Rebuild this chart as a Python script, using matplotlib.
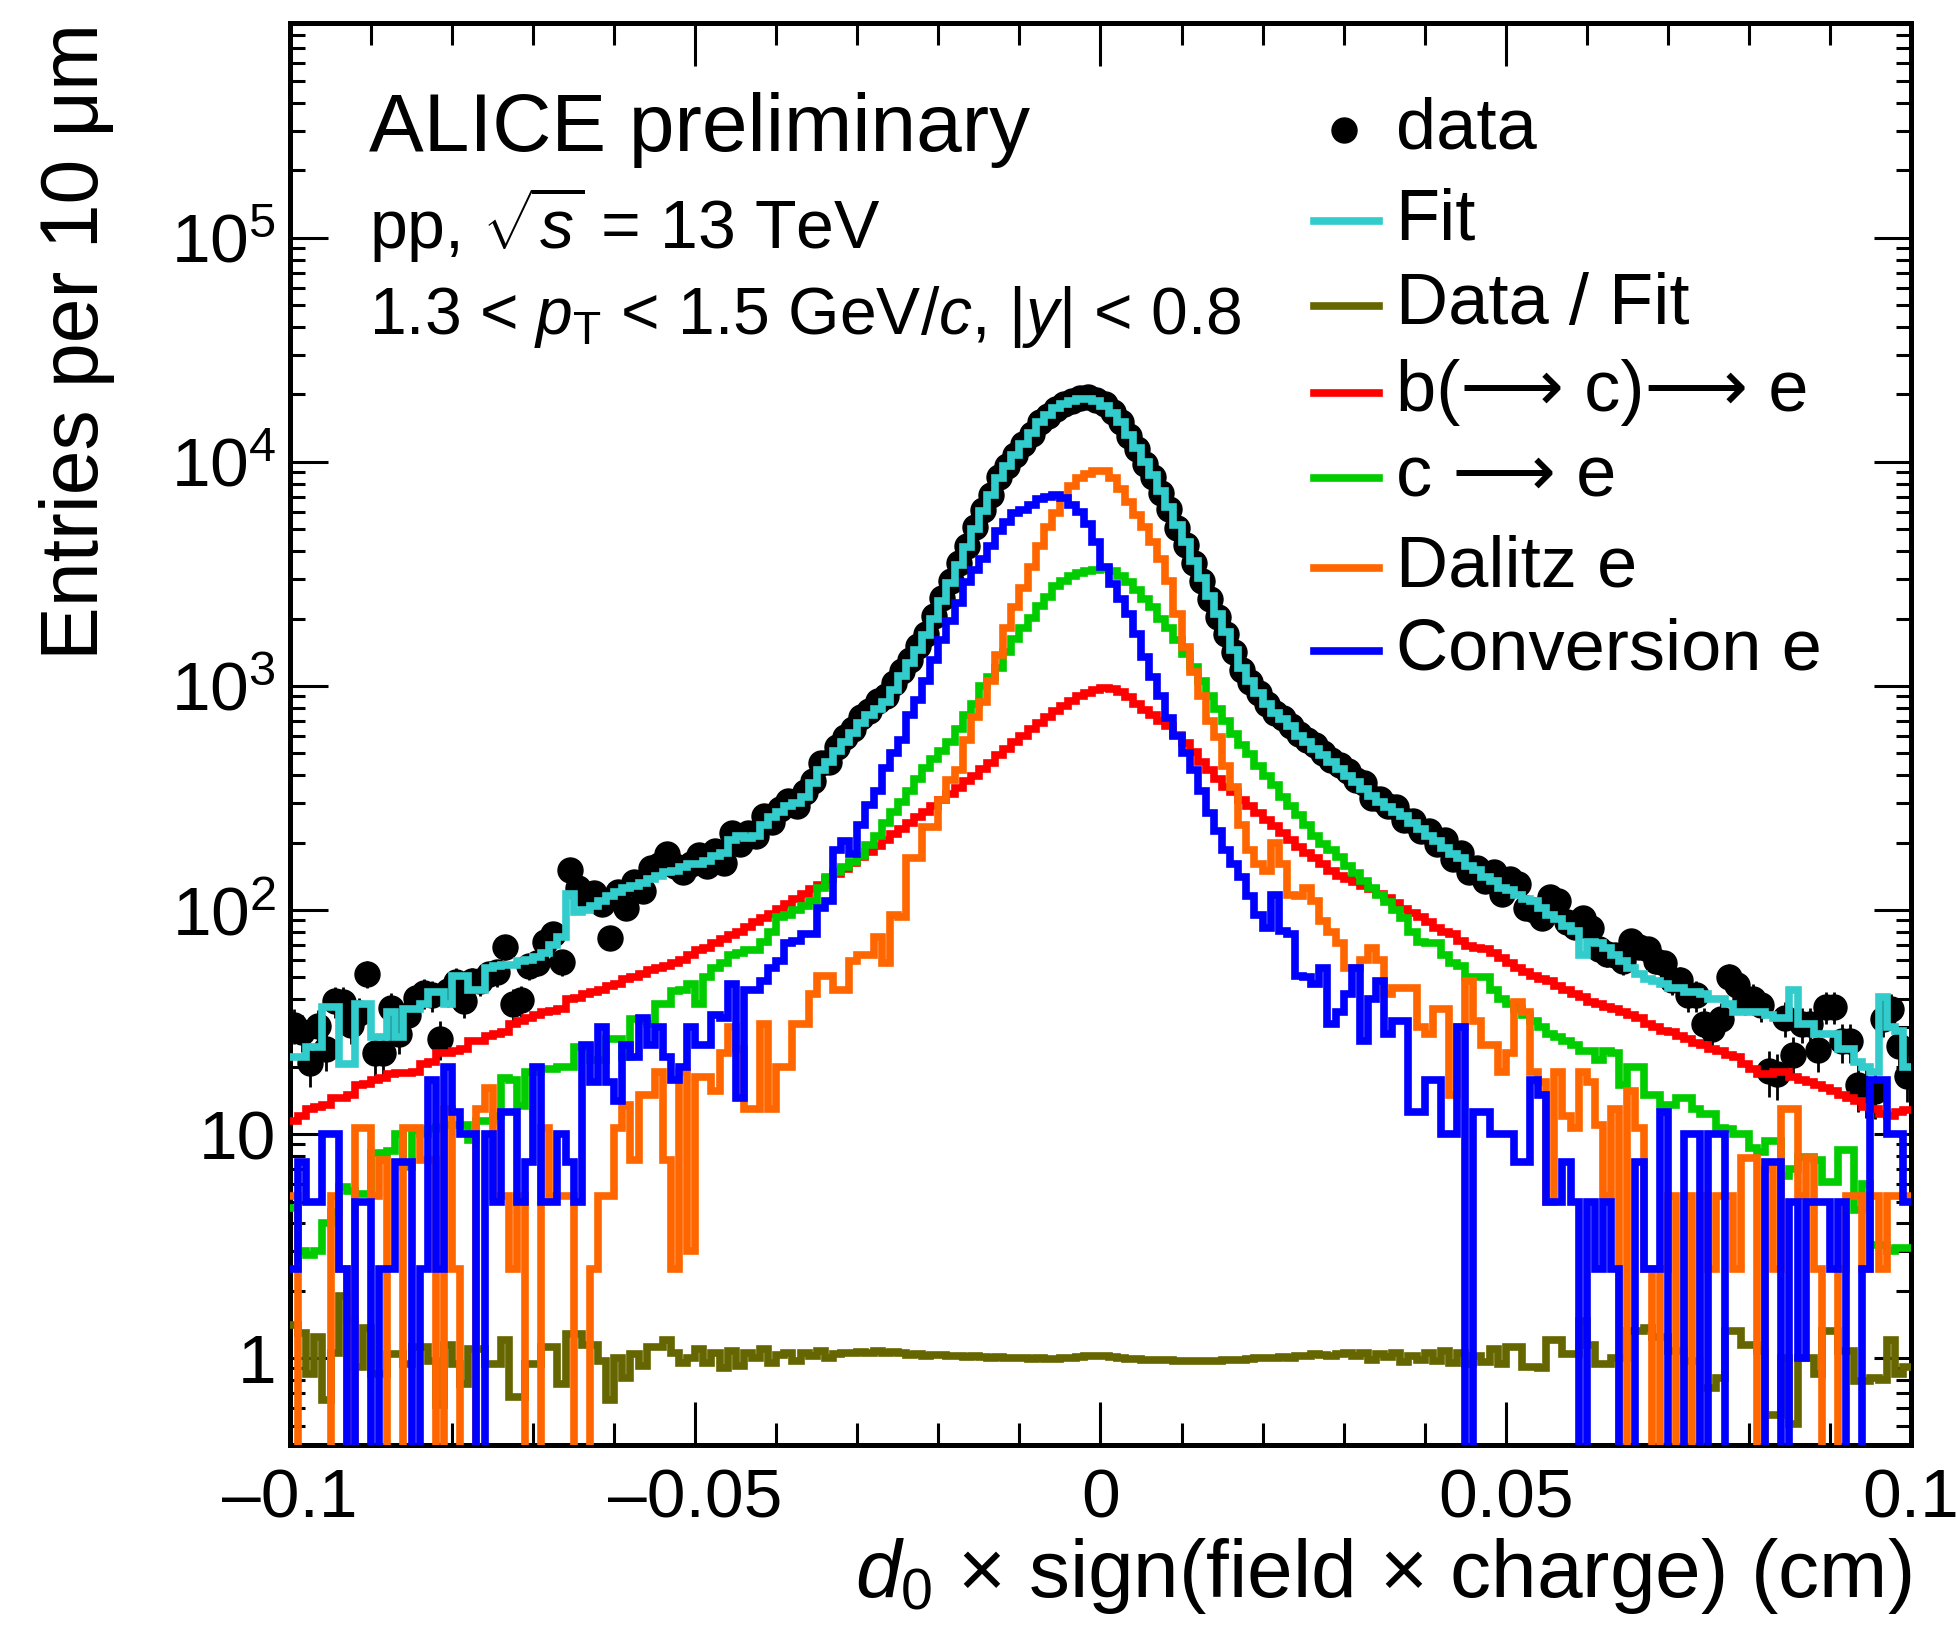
"""
    d0 distribution with template fit (ALICE preliminary style)
"""
import numpy as np
import matplotlib
matplotlib.use("Agg")
import matplotlib.pyplot as plt
from matplotlib.ticker import MultipleLocator, LogLocator, FuncFormatter, NullFormatter

plt.rcParams['font.family'] = ['Liberation Sans', 'DejaVu Sans']
plt.rcParams['mathtext.fontset'] = 'custom'
plt.rcParams['mathtext.rm'] = 'Liberation Sans'
plt.rcParams['mathtext.it'] = 'Liberation Sans:italic'

# bins of 10 um from -0.1 to 0.1 cm
edges = np.linspace(-0.1, 0.1, 201)
centers = 0.5 * (edges[:-1] + edges[1:])

# template fit (sum)
fit_vals = [
    22, 22, 24.5, 24.5, 37, 37, 20.5, 20.5, 38, 38,
    27, 27, 35, 27, 36, 36, 38, 43, 43, 38,
    51, 51, 44, 44, 55, 56, 57, 57, 59, 60,
    62, 64, 70, 76, 118, 98, 100, 104, 110, 116,
    120, 125, 128, 132, 138, 142, 148, 150, 155, 160,
    160, 165, 175, 180, 205, 215, 210, 215, 240, 260,
    275, 290, 300, 320, 370, 420, 460, 515, 560, 615,
    680, 740, 790, 850, 960, 1110, 1270, 1450, 1680, 2000,
    2400, 2880, 3470, 4170, 5010, 6030, 7080, 8510, 9550, 10700,
    12000, 13500, 15100, 16200, 17400, 18200, 18600, 19000, 19000, 18600,
    17800, 16600, 15100, 13200, 11500, 10000, 8710, 7410, 6310, 5250,
    4370, 3630, 3020, 2510, 2090, 1740, 1450, 1200, 1050, 930,
    830, 760, 710, 660, 600, 560, 525, 490, 457, 427,
    398, 372, 347, 324, 302, 288, 275, 263, 245, 229,
    214, 204, 190, 178, 170, 158, 151, 141, 135, 126,
    123, 117, 112, 110, 102, 95, 91, 85, 81, 63,
    72, 71, 68, 63, 59, 55, 52, 49, 48, 47,
    45, 45, 43, 43, 42, 40, 40, 38, 35, 35,
    35, 35, 34, 33, 33, 44, 31, 31, 28, 28,
    28, 24, 24, 21, 20, 19, 41, 30, 29, 20,
]

# data / fit
ratio_vals = [
    1.4, 1.3, 0.85, 1.24, 0.65, 1.06, 1.9, 1.5, 0.91, 1.37,
    0.85, 0.85, 1.04, 1.04, 0.94, 1.12, 1.12, 0.97, 0.62, 1.14,
    0.94, 0.77, 1.1, 1.1, 0.94, 0.94, 1.2, 0.67, 0.67, 0.94,
    0.94, 1.12, 1.12, 0.77, 1.28, 1.28, 1.15, 1.15, 0.97, 0.65,
    1.0, 0.82, 1.04, 0.92, 1.12, 1.12, 1.2, 1.05, 0.95, 1.0,
    1.1, 0.95, 1.05, 0.9, 1.08, 0.92, 1.05, 1.0, 1.1, 0.95,
    1.03, 1.06, 0.97, 1.05, 1.02, 1.08, 1.0, 1.04, 1.06, 1.05,
    1.07, 1.05, 1.08, 1.06, 1.07, 1.05, 1.03, 1.04, 1.02, 1.03,
    1.03, 1.02, 1.02, 1.01, 1.02, 1.01, 1.0, 1.01, 1.0, 1.0,
    1.0, 0.99, 1.0, 0.99, 0.99, 1.0, 1.0, 1.01, 1.02, 1.02,
    1.02, 1.01, 1.0, 0.99, 0.99, 0.98, 0.98, 0.98, 0.98, 0.97,
    0.97, 0.97, 0.97, 0.97, 0.97, 0.98, 0.98, 0.98, 0.99, 1.0,
    1.0, 1.0, 1.01, 1.0, 1.02, 1.02, 1.04, 1.03, 1.02, 1.04,
    1.05, 1.02, 1.06, 0.98, 1.04, 1.01, 1.05, 0.96, 1.02, 0.98,
    1.05, 0.97, 1.08, 0.95, 1.06, 0.94, 1.02, 0.96, 1.1, 0.94,
    1.12, 1.12, 0.91, 0.91, 0.9, 1.2, 1.2, 1.04, 1.04, 1.47,
    1.15, 0.94, 0.94, 1.0, 1.0, 1.32, 1.32, 1.37, 1.24, 1.24,
    1.08, 1.08, 0.97, 0.97, 0.74, 0.74, 0.82, 1.32, 1.32, 1.15,
    1.15, 1.08, 0.56, 0.56, 1.0, 0.51, 1.0, 1.0, 0.85, 1.32,
    1.32, 1.08, 1.08, 0.79, 0.79, 0.82, 0.8, 1.2, 0.85, 0.91,
]

# b(->c)->e template
bc_vals = [
    11.5, 12, 13, 13.2, 13.5, 14.5, 14.5, 15, 16.5, 16.8,
    17.5, 17.8, 18.5, 18.7, 18.8, 19, 20.5, 21, 23, 23,
    23.5, 24, 26, 26, 27.5, 28, 28.5, 31, 32, 33,
    34, 35, 35.5, 36, 40, 40.5, 42, 43, 44, 46,
    47, 49, 50, 52, 54, 55, 56, 58, 60, 63,
    66, 68, 71, 74, 77, 80, 84, 88, 92, 96,
    101, 106, 112, 118, 124, 130, 137, 145, 153, 162,
    172, 182, 194, 206, 218, 230, 245, 260, 275, 290,
    310, 330, 352, 375, 398, 425, 455, 490, 525, 560,
    600, 640, 680, 725, 770, 815, 860, 900, 935, 960,
    975, 965, 940, 890, 830, 785, 740, 700, 660, 605,
    555, 505, 460, 420, 385, 355, 335, 310, 290, 270,
    252, 236, 220, 205, 192, 180, 170, 160, 150, 142,
    138, 134, 128, 124, 118, 113, 107, 101, 97, 93,
    88, 83, 80, 78, 73, 69, 68, 67, 64, 61,
    58, 55, 53, 51, 49, 48, 46, 44, 42, 41,
    39, 38, 37, 36, 35, 34, 33, 31, 30, 29,
    28.5, 27.5, 26.5, 25.5, 25, 24, 23.5, 22.5, 22, 20.5,
    19.5, 18.6, 18.6, 19, 19, 18, 17.4, 17, 16.5, 16,
    15.5, 15, 14.5, 14, 13.2, 13, 12.3, 12, 12.6, 12.8,
]

# c->e template
c_vals = [
    4.7, 3, 2.9, 3, 4, 4.5, 5.8, 5.6, 5.4, 5.4,
    8.2, 8.2, 8.4, 10, 7.1, 10.4, 10, 10.5, 10.8, 11,
    11, 11, 9.4, 11.5, 11.5, 12, 17.8, 17.5, 13.3, 19,
    19, 19.5, 19.5, 20, 20, 24.5, 24.5, 21.5, 21.5, 26.5,
    26.5, 22, 32.5, 32, 31, 38, 38, 43.6, 44, 47,
    38, 50, 55, 58, 63, 64, 66, 66, 72, 80,
    93, 95, 100, 104, 110, 126, 140, 148, 155, 163,
    174, 195, 215, 245, 275, 305, 340, 385, 430, 470,
    510, 560, 640, 740, 830, 1000, 1100, 1200, 1420, 1620,
    1820, 2020, 2280, 2500, 2800, 2950, 3100, 3180, 3250, 3300,
    3310, 3250, 3100, 2900, 2690, 2450, 2240, 2000, 1820, 1600,
    1390, 1210, 1050, 900, 790, 700, 610, 545, 495, 440,
    395, 360, 320, 290, 265, 240, 215, 198, 185, 172,
    158, 146, 135, 126, 117, 109, 100, 92, 80, 72,
    71, 71, 63, 58, 56, 50, 50, 50, 44, 40,
    38, 36, 34, 32, 30, 28, 27, 26, 25, 23.6,
    23.6, 21.5, 23.6, 23, 16.5, 20, 20, 15, 15, 13.5,
    13.5, 14.5, 14.5, 13, 12.3, 12.3, 10.7, 10.5, 10, 10,
    8.7, 8.3, 9.3, 9.3, 6.5, 7, 7.9, 7.9, 7.7, 6.1,
    6.1, 8.5, 8.5, 4.6, 6, 3.2, 3.2, 3, 3.1, 3.1,
]

# Dalitz e template
dalitz_vals = [
    5.3, 0, 0, 0, 0, 5.3, 2.5, 0, 10.6, 10.6,
    5.3, 7.7, 0, 0, 10.6, 10.6, 7.7, 7.7, 0, 13,
    2.5, 0, 0, 13, 16, 5.3, 5.3, 2.5, 5.3, 0,
    0, 10.6, 5.3, 5.3, 5.3, 0, 0, 2.5, 5.3, 5.3,
    10.6, 13.5, 7.7, 15, 15, 19, 7.7, 2.5, 19, 3,
    18, 18, 15.5, 23, 30, 24, 13, 13, 31, 13,
    20, 20, 31, 31, 42, 51, 51, 44, 44, 59,
    63, 63, 76, 58, 95, 93, 170, 170, 234, 234,
    309, 380, 420, 575, 724, 850, 1050, 1380, 1820, 2240,
    2750, 3400, 4200, 5100, 5900, 6900, 7800, 8500, 8800, 9100,
    9100, 8500, 7600, 6600, 5800, 5100, 4400, 3700, 2950, 2100,
    1500, 1150, 900, 700, 590, 440, 355, 240, 185, 160,
    150, 200, 160, 117, 115, 126, 110, 89, 80, 71,
    55, 55, 60, 68, 60, 42, 45, 45, 45, 30,
    28, 36, 36, 15, 30, 48, 32, 25, 25, 19,
    23, 39, 35, 19, 17, 5, 19, 12, 10.6, 19,
    17, 11, 5.3, 13, 0, 15.5, 10.6, 2.5, 0, 2.5,
    5.3, 0, 5.3, 0, 5.3, 2.5, 5.3, 5.3, 2.5, 7.8,
    7.8, 0, 7, 2.5, 13, 13, 5.3, 7.8, 2.5, 0,
    0, 2.5, 5.3, 5.3, 2.5, 5.3, 2.5, 5.3, 5.3, 5.3,
]

# conversion e template
conv_vals = [
    2.5, 7.5, 5, 5, 10, 10, 2.5, 0, 5, 5,
    0, 2.5, 2.5, 7.5, 7.5, 0, 2.5, 17.5, 2.5, 20,
    12.5, 10, 10, 0, 10, 5, 12.5, 12.5, 5, 7.5,
    20, 5, 5, 10, 7.5, 5, 25, 17, 30, 17,
    14, 25, 22, 33, 25, 30, 22, 17.5, 20, 30,
    25, 25, 34, 33, 47, 14.5, 44, 44, 48, 55,
    59, 71, 73, 78, 78, 102, 110, 186, 204, 178,
    240, 295, 340, 430, 500, 575, 740, 870, 1050, 1300,
    1600, 1950, 2350, 2900, 3300, 3700, 4200, 4900, 5400, 5900,
    6100, 6400, 6800, 6950, 7100, 6900, 6450, 6000, 5300, 4400,
    3400, 2850, 2450, 2100, 1700, 1350, 1100, 900, 720, 600,
    500, 420, 340, 270, 225, 185, 160, 140, 115, 95,
    83, 117, 81, 78, 51, 50, 47, 55, 31, 35,
    42, 55, 26, 40, 48, 28, 32, 32, 12.6, 12.6,
    17.4, 17.4, 10, 10, 30, 0, 12.5, 12.5, 10, 10,
    10, 7.5, 7.5, 17.5, 15, 5, 5, 7.5, 5, 0,
    5, 2.5, 5, 2.5, 0, 0, 7.5, 2.5, 2.5, 12.5,
    0, 0, 10, 10, 0, 10, 10, 0, 0, 0,
    0, 0, 7.5, 7.5, 0, 5, 1, 5, 5, 5,
    2.5, 5, 0, 0, 2.5, 17.5, 17.5, 10, 10, 5,
]

fit = np.array(fit_vals, dtype=float)
ratio = np.array(ratio_vals, dtype=float)
data = fit * ratio

col_fit = '#33cccc'
col_ratio = '#666600'
col_b = '#ff0000'
col_c = '#00cc00'
col_dal = '#ff6600'
col_conv = '#0000ff'
lw = 5.5

fig = plt.figure(figsize=(19.58, 16.48), dpi=100)
ax = fig.add_axes([0.1481, 0.1232, 0.8279, 0.8629])

ax.errorbar(centers, data, yerr=np.sqrt(data), fmt='o', color='black',
            ms=18, elinewidth=2, capsize=0, zorder=2)
ax.stairs(fit, edges, color=col_fit, lw=lw, baseline=None, zorder=3)
ax.stairs(ratio, edges, color=col_ratio, lw=lw, baseline=None, zorder=3)
ax.stairs(bc_vals, edges, color=col_b, lw=lw, baseline=None, zorder=3)
ax.stairs(c_vals, edges, color=col_c, lw=lw, baseline=None, zorder=3)
ax.stairs(dalitz_vals, edges, color=col_dal, lw=lw, baseline=None, zorder=3)
ax.stairs(conv_vals, edges, color=col_conv, lw=lw, baseline=None, zorder=3)

ax.set_xlim(-0.1, 0.1)
ax.set_yscale('log')
ax.set_ylim(0.41, 9.1e5)

# ROOT like axes
ax.xaxis.set_major_locator(MultipleLocator(0.05))
ax.xaxis.set_minor_locator(MultipleLocator(0.01))
ax.xaxis.set_major_formatter(FuncFormatter(
    lambda v, p: '0' if abs(v) < 1e-9 else ('%g' % v).replace('-', '\u2013')))
ax.yaxis.set_major_locator(LogLocator(base=10, numticks=20))
ax.yaxis.set_minor_locator(LogLocator(base=10, subs=np.arange(2, 10), numticks=50))
ax.yaxis.set_minor_formatter(NullFormatter())


def ylab(v, p):
    if abs(v - 1) < 1e-9:
        return '1'
    if abs(v - 10) < 1e-9:
        return '10'
    return r'$10^{%d}$' % int(round(np.log10(v)))


ax.yaxis.set_major_formatter(FuncFormatter(ylab))

ax.tick_params(axis='both', which='both', direction='in', top=True, right=True,
               width=2.2, labelsize=50, colors='black')
ax.tick_params(axis='x', which='major', length=31, pad=16)
ax.tick_params(axis='x', which='minor', length=16)
ax.tick_params(axis='y', which='major', length=27, pad=10)
ax.tick_params(axis='y', which='minor', length=11)
for s in ax.spines.values():
    s.set_linewidth(3.6)

ax.set_xlabel(r'$d_0$ × sign(field × charge) (cm)', fontsize=59, loc='right')
ax.xaxis.set_label_coords(1.0, -0.064)
ax.set_ylabel('Entries per 10 μm', fontsize=58, loc='top')
ax.yaxis.set_label_coords(-0.108, 1.0)

# labels
ax.text(0.049, 0.925, 'ALICE preliminary', fontsize=59, va='center', transform=ax.transAxes)
ax.text(0.049, 0.858, r'pp, $\sqrt{s}$ = 13 TeV', fontsize=49, va='center', transform=ax.transAxes)
ax.text(0.049, 0.793, r'1.3 < $p_{\mathrm{T}}$ < 1.5 GeV/$c$, |$y$| < 0.8', fontsize=47.5,
        va='center', transform=ax.transAxes)

# legend drawn by hand
ax.plot([0.650], [0.925], 'o', color='black', ms=18, transform=ax.transAxes)
ax.text(0.682, 0.925, 'data', fontsize=52, va='center', transform=ax.transAxes)
leg = [
    (col_fit, 'Fit', 0.861),
    (col_ratio, 'Data / Fit', 0.801),
    (col_b, 'b(\u27f6 c)\u27f6 e', 0.740),
    (col_c, 'c \u27f6 e', 0.680),
    (col_dal, 'Dalitz e', 0.617),
    (col_conv, 'Conversion e', 0.558),
]
for c, lab, y in leg:
    ax.plot([0.632, 0.672], [y, y], color=c, lw=lw, transform=ax.transAxes)
    ax.text(0.682, y, lab, fontsize=52, va='center', transform=ax.transAxes)

plt.savefig('out.png', dpi=100)
